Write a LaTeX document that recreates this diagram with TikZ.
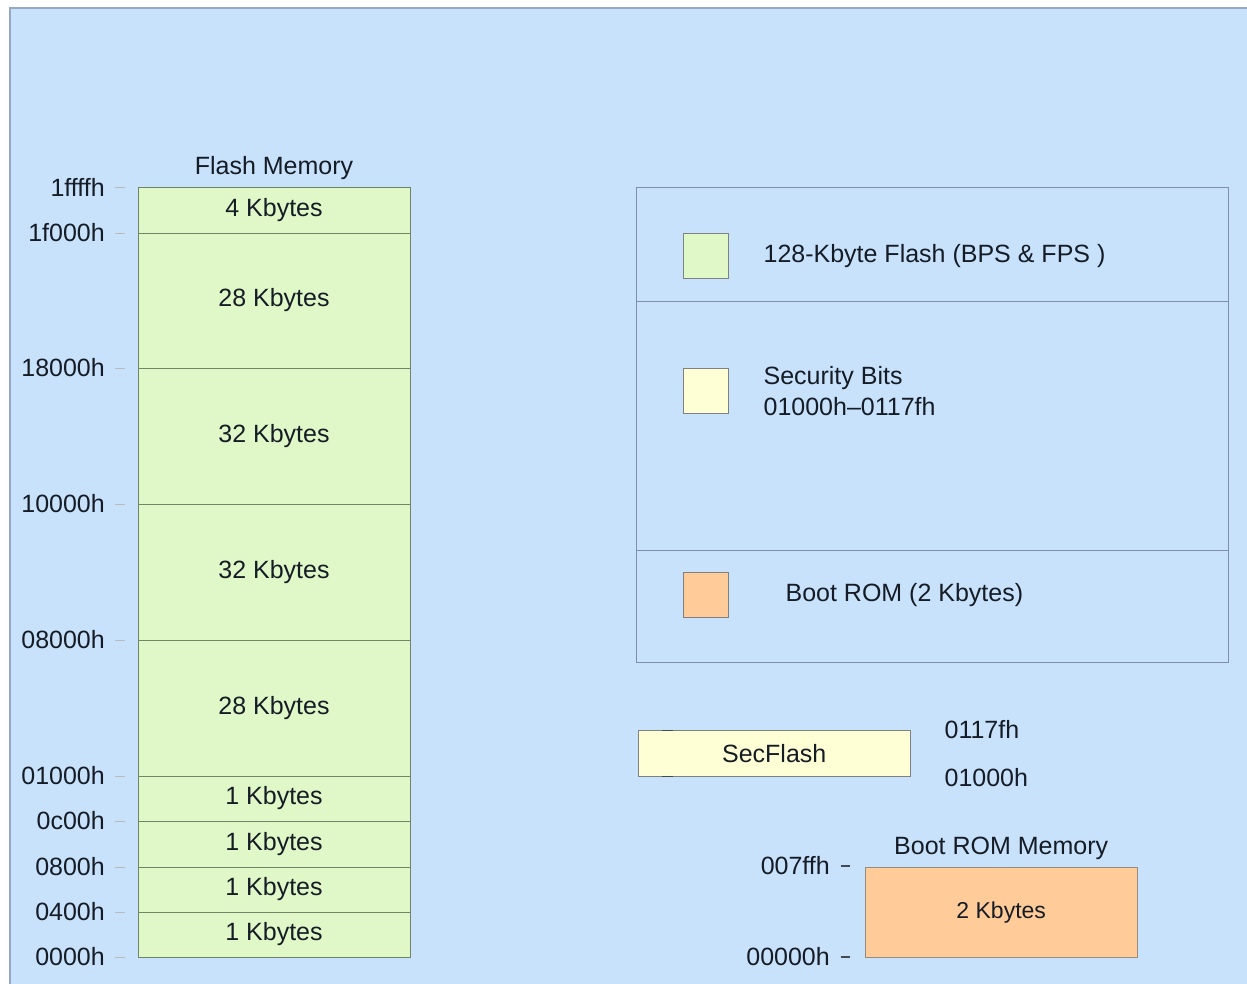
\documentclass[tikz,border=0pt]{standalone}
\usepackage{fontspec}
\setmainfont{Liberation Sans}
\usetikzlibrary{positioning}
\definecolor{bgblue}{RGB}{200,226,252}
\definecolor{frameline}{RGB}{150,168,196}
\definecolor{flashgreen}{RGB}{224,248,200}
\definecolor{flashline}{RGB}{112,132,104}
\definecolor{secyellow}{RGB}{255,255,214}
\definecolor{bootorange}{RGB}{255,204,153}
\definecolor{bootline}{RGB}{150,140,128}
\definecolor{boxline}{RGB}{128,144,172}
\definecolor{txt}{RGB}{22,28,38}

\begin{document}
\begin{tikzpicture}[x=1pt, y=-1pt, font=\fontsize{25}{31}\selectfont, text=txt,
    seg/.style={draw=flashline, fill=flashgreen, minimum width=272pt, outer sep=0pt, inner sep=0pt},
    addr/.style={anchor=east, inner sep=0pt},
    tck/.style={draw=gray!55, line width=0.8pt},
    swatch/.style={draw=gray, minimum size=45pt, inner sep=0pt, anchor=north west},
    title/.style={inner sep=0pt}]
    \useasboundingbox (0,0) rectangle (1247,983);
    \clip (0,0) rectangle (1247,983);
    \fill[white] (0,0) rectangle (1247,983);
    \draw[frameline, fill=bgblue, line width=1.2pt] (10,8) rectangle (1270,1010);

    % flash memory column
    \node[seg, minimum height=46pt, anchor=north west] (s1) at (138,187) {4 Kbytes};
    \node[seg, minimum height=135pt, below=0pt of s1] (s2) {28 Kbytes};
    \node[seg, minimum height=136pt, below=0pt of s2] (s3) {32 Kbytes};
    \node[seg, minimum height=136pt, below=0pt of s3] (s4) {32 Kbytes};
    \node[seg, minimum height=136pt, below=0pt of s4] (s5) {28 Kbytes};
    \node[seg, minimum height=45pt, below=0pt of s5] (s6) {1 Kbytes};
    \node[seg, minimum height=46pt, below=0pt of s6] (s7) {1 Kbytes};
    \node[seg, minimum height=45pt, below=0pt of s7] (s8) {1 Kbytes};
    \node[seg, minimum height=45pt, below=0pt of s8] (s9) {1 Kbytes};
    \node[title, above=7pt of s1] (fm) {Flash Memory};

    \foreach \y/\t [count=\i] in {187/1ffffh, 233/1f000h, 368/18000h, 504/10000h, 640/08000h,
                                  776/01000h, 821/0c00h, 867/0800h, 912/0400h, 957/0000h} {
        \node[addr] (a\i) at (105,\y) {\t};
        \draw[tck] ([xshift=10pt]a\i.east) -- ++(10,0);
    }

    % legend
    \node[draw=boxline, minimum width=592pt, minimum height=475pt, anchor=north west, inner sep=0pt] (leg) at (636,187) {};
    \draw[boxline] (636,301) -- (1228,301);
    \draw[boxline] (636,550) -- (1228,550);
    \node[swatch, fill=flashgreen] (sw1) at (683,233) {};
    \node[swatch, fill=secyellow] (sw2) at (683,368) {};
    \node[swatch, fill=bootorange] (sw3) at (683,572) {};
    \node[inner sep=0pt, right=35pt of sw1] (l1) {128-Kbyte Flash (BPS \& FPS )};
    \node[inner sep=0pt, right=35pt of sw2, align=left] (l2) {Security Bits\\01000h--0117fh};
    \node[inner sep=0pt, right=57pt of sw3] (l3) {Boot ROM (2 Kbytes)};

    % security flash
    \node[draw=gray, fill=secyellow, minimum width=272pt, minimum height=46pt, anchor=north west, inner sep=0pt] (sec) at (638,730) {SecFlash};
    \draw[txt!80, line width=1pt] (662,730) -- (673,730);
    \draw[txt!80, line width=1pt] (662,776) -- (673,776);
    \node[anchor=west, inner sep=0pt] (secT) at ([xshift=34pt]sec.north east) {0117fh};
    \node[anchor=west, inner sep=0pt] (secB) at ([xshift=34pt, yshift=-1pt]sec.south east) {01000h};

    % boot rom
    \node[draw=bootline, fill=bootorange, minimum width=272pt, minimum height=90pt, anchor=north west, inner sep=0pt] (boot) at (865,867) {\fontsize{23}{27}\selectfont 2 Kbytes};
    \node[title, above=7pt of boot] (bm) {Boot ROM Memory};
    \node[addr] (b1) at (830,866) {007ffh};
    \node[addr] (b2) at (830,957) {00000h};
    \draw[txt!80, line width=1.2pt] ([xshift=11pt]b1.east) -- ++(9,0);
    \draw[txt!80, line width=1.2pt] ([xshift=11pt]b2.east) -- ++(9,0);
\end{tikzpicture}
\end{document}
